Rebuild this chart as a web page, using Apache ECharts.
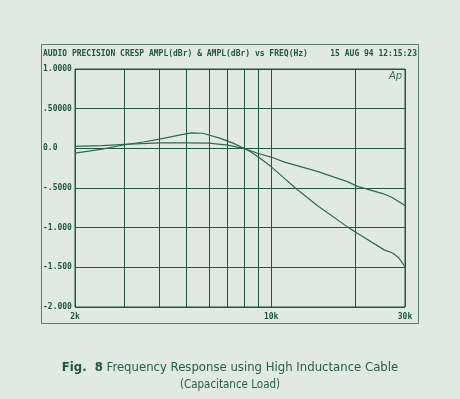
<!DOCTYPE html>
<html>
<head>
<meta charset="utf-8">
<script src="https://cdn.jsdelivr.net/npm/echarts@6/dist/echarts.min.js"></script>
<style>
    html, body { margin: 0; padding: 0; background: #e1e9e5; }
    #container1 { width: 460px; height: 399px; }
</style>
</head>
<body>
<div id="container1"></div>
<script>
//曲线1 (大跌落)
var freqA = [2000, 2500, 3000, 3500, 4000, 4750, 5200, 5700, 6600, 7350, 8000, 8500, 9000, 10000, 11000, 12200, 14600, 18700, 20300, 25300, 27100, 28500, 30000];
var amplA = [-0.06, -0.01, 0.045, 0.08, 0.115, 0.17, 0.195, 0.19, 0.125, 0.063, 0.0, -0.05, -0.11, -0.23, -0.36, -0.50, -0.72, -0.99, -1.07, -1.28, -1.32, -1.38, -1.49];
//曲线2 (平坦)
var freqB = [2000, 2500, 3000, 4000, 5000, 6000, 7000, 8000, 9000, 10000, 11100, 14600, 18700, 20300, 25000, 27000, 30000];
var amplB = [0.025, 0.035, 0.05, 0.07, 0.07, 0.065, 0.04, 0.0, -0.065, -0.11, -0.17, -0.29, -0.42, -0.48, -0.57, -0.62, -0.72];
//刻度
var yTicks = [-2, -1.5, -1, -0.5, 0, 0.5, 1];
var yTickLabels = ['-2.000', '-1.500', '-1.000', '-.5000', '0.0', '.50000', '1.0000'];
var xGridFreq = [3000, 4000, 5000, 6000, 7000, 8000, 9000, 20000];

var ink = '#1d5641';
var mono = 'DejaVu Sans Mono';
var capFont = '"Liberation Sans Narrow", "DejaVu Sans Condensed", sans-serif';

function pairs(xs, ys) {
    var out = [];
    for (var i = 0; i < xs.length; i++) {
        out.push([xs[i], ys[i]]);
    }
    return out;
}

function Chart1_Init() {
    var myChart = echarts.init(document.getElementById("container1"));
    var option = {
        backgroundColor: '#e1e9e5',
        animation: false,
        grid: {
            left: 75,
            right: 55,
            top: 69,
            bottom: 92,
            show: true,
            borderColor: ink,
            borderWidth: 1
        },
        xAxis: {
            type: 'log',
            min: 2000,
            max: 30000,
            axisLine: { show: false },
            axisTick: { show: false },
            splitLine: { show: true, lineStyle: { color: ink, width: 1 } },
            axisLabel: {
                margin: 6,
                color: ink,
                fontFamily: mono,
                fontWeight: 'bold',
                fontSize: 8,
                showMinLabel: true,
                showMaxLabel: true,
                formatter: function (v) { return Math.round(v / 1000) + 'k'; }
            }
        },
        yAxis: {
            type: 'value',
            min: -2,
            max: 1,
            interval: 0.5,
            axisLine: { show: false },
            axisTick: { show: false },
            splitLine: { show: true, lineStyle: { color: ink, width: 1 } },
            axisLabel: {
                align: 'left',
                margin: 32,
                color: ink,
                fontFamily: mono,
                fontWeight: 'bold',
                fontSize: 8,
                padding: [0, 0, 3, 0],
                formatter: function (v) {
                    for (var i = 0; i < yTicks.length; i++) {
                        if (Math.abs(yTicks[i] - v) < 1e-6) return yTickLabels[i];
                    }
                    return '';
                }
            }
        },
        series: [
            {
                name: 'AMPL A',
                type: 'line',
                showSymbol: false,
                data: pairs(freqA, amplA),
                lineStyle: { color: '#2f6a55', width: 1.2 },
                //竖向网格线 3k..9k, 20k
                markLine: {
                    silent: true,
                    symbol: 'none',
                    label: { show: false },
                    lineStyle: { color: ink, width: 1, type: 'solid' },
                    data: xGridFreq.map(function (f) { return { xAxis: f }; })
                }
            },
            {
                name: 'AMPL B',
                type: 'line',
                showSymbol: false,
                data: pairs(freqB, amplB),
                lineStyle: { color: '#2f6a55', width: 1.2 }
            }
        ],
        graphic: [
            {
                type: 'rect',
                shape: { x: 41.5, y: 44.5, width: 377, height: 279 },
                style: { fill: null, stroke: '#55806f', lineWidth: 1 }
            },
            {
                type: 'text', left: 43, top: 50,
                style: { text: 'AUDIO PRECISION CRESP AMPL(dBr) & AMPL(dBr) vs FREQ(Hz)', fill: ink, font: 'bold 8px ' + mono }
            },
            {
                type: 'text', right: 43, top: 50,
                style: { text: '15 AUG 94 12:15:23', fill: ink, font: 'bold 8px ' + mono }
            },
            {
                type: 'text', left: 389, top: 71,
                style: { text: 'Ap', fill: '#3a6e5b', font: 'italic 10px "DejaVu Sans"' }
            },
            {
                type: 'text', left: 'center', top: 361,
                style: {
                    text: '{b|Fig.  8} Frequency Response using High Inductance Cable',
                    fill: '#255f4a',
                    font: '13px ' + capFont,
                    rich: {
                        b: { fontWeight: 'bold', fontSize: 13, fill: '#1d5641', fontFamily: capFont }
                    }
                }
            },
            {
                type: 'text', left: 'center', top: 379,
                style: {
                    text: '(Capacitance Load)',
                    fill: '#255f4a',
                    font: '11.5px ' + capFont
                }
            }
        ]
    };
    myChart.setOption(option);
}

Chart1_Init();
</script>
</body>
</html>
